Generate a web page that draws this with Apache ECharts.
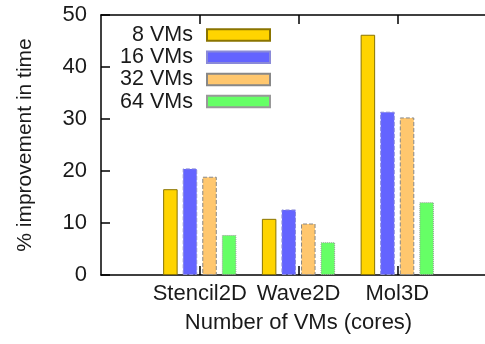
<!DOCTYPE html>
<html>
<head>
<meta charset="utf-8">
<script src="https://cdn.jsdelivr.net/npm/echarts@6/dist/echarts.min.js"></script>
<style>
    html, body { margin: 0; padding: 0; background: #fff; }
    #chart { width: 485px; height: 344px; }
</style>
</head>
<body>
<div id="chart"></div>
<script>
    // categories (empty slots at both ends give the gnuplot-like padding)
    var categories = ['', 'Stencil2D', 'Wave2D', 'Mol3D', ''];
    var seriesNames = ['8 VMs', '16 VMs', '32 VMs', '64 VMs'];
    var vms8  = ['-', 16.5, 10.8, 46.2, '-'];
    var vms16 = ['-', 20.5, 12.6, 31.4, '-'];
    var vms32 = ['-', 18.9, 9.9, 30.3, '-'];
    var vms64 = ['-', 7.7, 6.3, 14.0, '-'];
    var yTicks = [0, 10, 20, 30, 40, 50];

    var font = 'Liberation Sans';
    var ink = '#1a1a1a';

    function bar(name, data, fill, border, borderType) {
        return {
            name: name,
            type: 'bar',
            data: data,
            barWidth: 14.5,
            barGap: '35%',
            itemStyle: {
                color: fill,
                borderColor: border,
                borderWidth: 1,
                borderType: borderType
            }
        };
    }

    var chart = echarts.init(document.getElementById('chart'));
    chart.setOption({
        animation: false,
        textStyle: { fontFamily: font },
        // plot box runs past the right edge of the picture, as in the original
        grid: { left: 101, width: 395, top: 15, height: 260, outerBoundsMode: 'none' },
        legend: {
            orient: 'vertical',
            left: 113,
            top: 24,
            padding: 0,
            align: 'right',
            icon: 'rect',
            itemWidth: 63,
            itemHeight: 11.5,
            itemGap: 0.2,
            formatter: '{a|{name}}',
            textStyle: {
                color: ink,
                fontFamily: font,
                rich: {
                    a: { width: 80, align: 'right', fontSize: 21.5, lineHeight: 22,
                         fontFamily: font, color: ink, padding: [0, 9, 0, 0] }
                }
            },
            data: seriesNames
        },
        xAxis: [{
            type: 'category',
            data: categories,
            boundaryGap: false,
            name: 'Number of VMs (cores)',
            nameLocation: 'middle',
            nameGap: 37,
            nameTextStyle: { fontSize: 22, color: ink, fontFamily: font },
            axisLine: { lineStyle: { color: '#000', width: 1.5 } },
            axisTick: {
                inside: true, length: 9,
                interval: function (i, v) { return v !== ''; },
                lineStyle: { color: '#000', width: 1.5 }
            },
            axisLabel: { fontSize: 22, color: ink, margin: 8, fontFamily: font, interval: 0 },
            splitLine: { show: false }
        }, {
            type: 'category',
            data: categories,
            boundaryGap: false,
            position: 'top',
            axisLine: { lineStyle: { color: '#000', width: 1.5 } },
            axisTick: {
                inside: true, length: 9,
                interval: function (i, v) { return v !== ''; },
                lineStyle: { color: '#000', width: 1.5 }
            },
            axisLabel: { show: false },
            splitLine: { show: false }
        }],
        yAxis: {
            type: 'value',
            min: yTicks[0],
            max: yTicks[yTicks.length - 1],
            interval: 10,
            name: '% improvement in time',
            nameLocation: 'middle',
            nameGap: 65,
            nameTextStyle: { fontSize: 21, color: ink, fontFamily: font },
            axisLine: { show: true, lineStyle: { color: '#000', width: 1.5 } },
            axisTick: { show: true, inside: true, length: 9, lineStyle: { color: '#000', width: 1.5 } },
            axisLabel: { fontSize: 22, color: ink, margin: 14, fontFamily: font },
            splitLine: { show: false }
        },
        series: [
            bar(seriesNames[0], vms8, '#ffd400', '#8a7400', 'solid'),
            bar(seriesNames[1], vms16, '#6464ff', '#8a8ad8', 'dashed'),
            bar(seriesNames[2], vms32, '#ffc76e', '#888888', 'dashed'),
            bar(seriesNames[3], vms64, '#66ff66', '#999999', 'dotted')
        ]
    });
</script>
</body>
</html>
